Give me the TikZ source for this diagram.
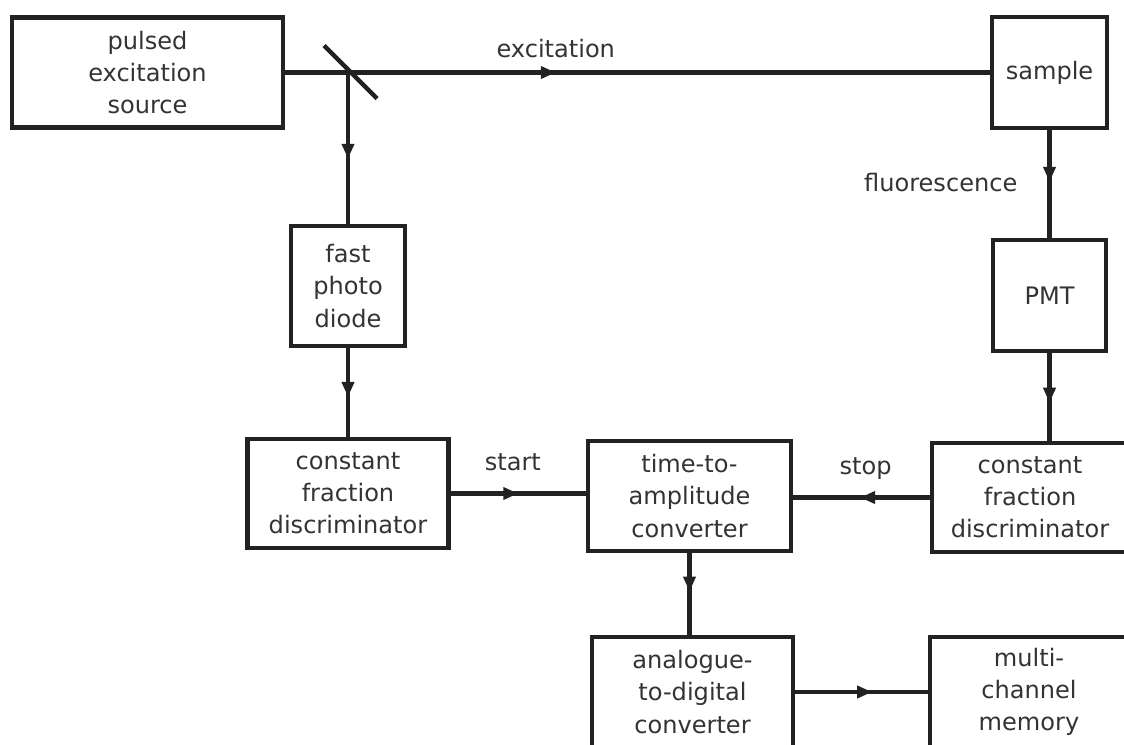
\documentclass[tikz,border=0pt]{standalone}
\usepackage{fontspec}
\setmainfont{DejaVu Sans}
\usetikzlibrary{arrows.meta,decorations.markings}

\definecolor{inkline}{HTML}{222222}
\definecolor{inktext}{HTML}{333333}

\tikzset{%
  % Specifications for the boxes, the signal lines and their labels:
        block/.style = {rectangle, draw = inkline, line width=2.5pt, inner sep=0pt, text=inktext, align=center, font=\fontsize{13.7}{18.3}\selectfont},
       signal/.style = {draw = inkline, line width=2.5pt},
     midarrow/.style = {postaction={decorate}, decoration={markings, mark=at position #1 with {\arrow{Triangle[length=0.3cm, width=0.24cm]}}}},
   midarrow/.default = 0.5,
          tag/.style = {inner sep=0pt, text=inktext, font=\fontsize{13.7}{18.3}\selectfont},
}

\begin{document}
\begin{tikzpicture}[x=0.02cm, y=-0.02cm]
    \useasboundingbox (0,0) rectangle (1124,744);
    \clip (0,0) rectangle (1124,744);

    % Draw nodes
    \node (source)  [block, minimum width=5.42cm, minimum height=2.2cm]  at (147.5,72.5) {pulsed\\excitation\\source};
    \node (sample)  [block, minimum width=2.3cm,  minimum height=2.22cm] at (1049.5,72.5) {sample};
    \node (diode)   [block, minimum width=2.28cm, minimum height=2.4cm]  at (348,286)     {fast\\photo\\diode};
    \node (pmt)     [block, minimum width=2.26cm, minimum height=2.22cm] at (1049.5,295.5) {PMT};
    \node (cfdL)    [block, minimum width=4.02cm, minimum height=2.18cm] at (348,493.5)   {constant\\fraction\\discriminator};
    \node (tac)     [block, minimum width=4.06cm, minimum height=2.2cm]  at (689.5,496)   {time-to-\\amplitude\\converter};
    \node (cfdR)    [block, minimum width=3.92cm, minimum height=2.18cm] at (1030,497.5)  {constant\\fraction\\discriminator};
    \node (adc)     [block, minimum width=4.02cm, minimum height=2.2cm]  at (692.5,692)   {analogue-\\to-digital\\converter};
    \node (memory)  [block, minimum width=3.96cm, minimum height=2.2cm]  at (1029,692)    {multi-\\channel\\memory};

    % beam splitter
    \coordinate (mirror) at (348,72.5);
    \draw[signal] (mirror) ++(-24,-27) -- ++(53,53);

    % Draw arrows
    \draw[signal, midarrow=0.384] (source) -- node[tag, above=0.24cm, pos=0.384] {excitation} (sample);
    \draw[signal, midarrow=0.57]  (mirror) -- (diode);
    \draw[signal, midarrow=0.48]  (sample) -- node[tag, left=0.6cm, pos=0.49] {fluorescence} (pmt);
    \draw[signal, midarrow=0.55]  (diode) -- (cfdL);
    \draw[signal, midarrow=0.565] (pmt.south) -- (pmt.south |- cfdR.north);
    \draw[signal, midarrow=0.5]   (cfdL.east) -- node[tag, above=0.4cm, pos=0.46] {start} (cfdL.east -| tac.west);
    \draw[signal, midarrow=0.51]  (cfdR.west) -- node[tag, above=0.32cm, pos=0.47] {stop} (cfdR.west -| tac.east);
    \draw[signal, midarrow=0.47]  (tac.south) -- (tac.south |- adc.north);
    \draw[signal, midarrow=0.58]  (adc.east) -- (adc.east -| memory.west);

\end{tikzpicture}
\end{document}
